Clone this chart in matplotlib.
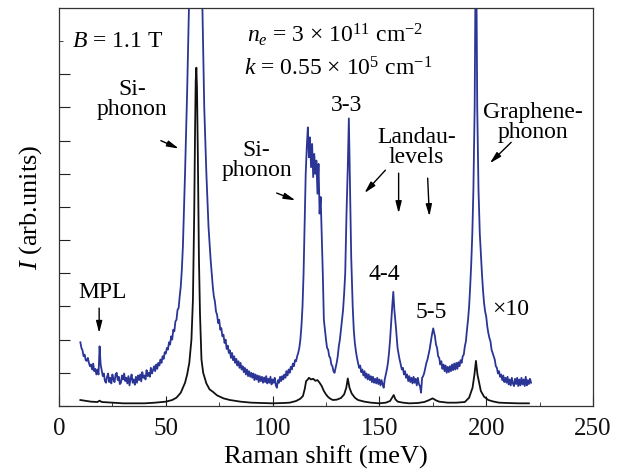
import matplotlib
matplotlib.use("Agg")
import matplotlib.pyplot as plt

plt.rcParams['font.family'] = ['Liberation Serif', 'DejaVu Serif']
plt.rcParams['mathtext.fontset'] = 'custom'
plt.rcParams['mathtext.rm'] = 'Liberation Serif'
plt.rcParams['mathtext.it'] = 'Liberation Serif:italic'

# espectro x10 (azul), meV / u.a.
blue_x = [10, 10.5, 11, 11.5, 12, 12.5, 13, 13.5, 14, 14.5,
          15, 15.5, 16, 16.5, 17, 17.5, 18, 18.5, 19, 19.5,
          20, 20.5, 21, 21.5, 22, 22.5, 23, 23.5, 24, 24.5,
          25, 25.5, 26, 26.5, 27, 27.5, 28, 28.5, 29, 29.5,
          30, 30.5, 31, 31.5, 32, 32.5, 33, 33.5, 34, 34.5,
          35, 35.5, 36, 36.5, 37, 37.5, 38, 38.5, 39, 39.5,
          40, 40.5, 41, 41.5, 42, 42.5, 43, 43.5, 44, 44.5,
          45, 45.5, 46, 46.5, 47, 47.5, 48, 48.5, 49, 49.5,
          50, 50.5, 51, 51.5, 52, 52.5, 53, 53.5, 54, 54.5,
          55, 55.5, 56, 56.5, 57, 57.5, 58, 59, 60, 61,
          62, 63, 64, 65, 66, 67, 68, 69, 70, 71,
          72, 72.5, 73, 73.5, 74, 74.5, 75, 75.5, 76, 76.5,
          77, 77.5, 78, 78.5, 79, 79.5, 80, 80.5, 81, 81.5,
          82, 82.5, 83, 83.5, 84, 84.5, 85, 85.5, 86, 86.5,
          87, 87.5, 88, 88.5, 89, 89.5, 90, 90.5, 91, 91.5,
          92, 92.5, 93, 93.5, 94, 94.5, 95, 95.5, 96, 96.5,
          97, 97.5, 98, 98.5, 99, 99.5, 100, 100.5, 101, 101.5,
          102, 102.5, 103, 103.5, 104, 104.5, 105, 105.5, 106, 106.5,
          107, 107.5, 108, 108.5, 109, 109.5, 110, 110.5, 111, 111.5,
          112, 112.5, 113, 113.5, 114, 114.5, 115, 115.5, 116, 116.5,
          117, 117.5, 118, 118.5, 119, 119.5, 120, 120.5, 121, 121.5,
          122, 122.5, 123, 123.5, 124, 124.5, 125, 125.5, 126, 126.5,
          127, 127.5, 128, 128.5, 129, 129.5, 130, 130.5, 131, 131.5,
          132, 132.5, 133, 133.5, 134, 134.6, 135.2, 135.7, 136.2, 136.8,
          137.5, 138, 138.5, 139, 139.5, 140, 140.5, 141, 141.5, 142,
          142.5, 143, 143.5, 144, 144.5, 145, 145.5, 146, 146.5, 147,
          147.5, 148, 148.5, 149, 149.5, 150, 150.5, 151, 151.5, 152,
          152.5, 153, 153.5, 154, 154.5, 155, 155.5, 156, 156.5, 157,
          157.7, 158.5, 159.3, 160, 160.5, 161, 161.5, 162, 162.5, 163,
          163.5, 164, 164.5, 165, 165.5, 166, 166.5, 167, 167.5, 168,
          168.5, 169, 169.5, 170, 170.5, 171, 171.5, 172, 172.5, 173,
          173.5, 174, 174.6, 175.2, 176, 176.5, 177, 177.5, 178, 178.5,
          179, 179.5, 180, 180.5, 181, 181.5, 182, 182.5, 183, 183.5,
          184, 184.5, 185, 185.5, 186, 186.5, 187, 187.5, 188, 188.5,
          189, 189.5, 190, 190.5, 191, 191.5, 192, 192.5, 193, 193.5,
          194, 194.6, 195.2, 195.8, 196.4, 197, 197.5, 198, 198.5, 199,
          199.5, 200, 200.5, 201, 201.5, 202, 202.5, 203, 203.5, 204,
          204.5, 205, 205.5, 206, 206.5, 207, 207.5, 208, 208.5, 209,
          209.5, 210, 210.5, 211, 211.5, 212, 212.5, 213, 213.5, 214,
          214.5, 215, 215.5, 216, 216.5, 217, 217.5, 218, 218.5, 219,
          219.5, 220, 220.5, 221]
blue_y = [1.92, 1.75, 1.68, 1.5, 1.55, 1.38, 1.36, 1.45, 1.3, 1.2,
          1.25, 1.1, 1.28, 1.05, 1.12, 0.95, 1.1, 0.95, 1.8, 1.25,
          1.08, 0.9, 0.98, 0.75, 0.7, 0.88, 0.98, 0.72, 0.85, 0.68,
          0.95, 0.8, 0.72, 0.95, 1.0, 0.78, 0.88, 0.66, 0.7, 0.92,
          0.8, 0.98, 0.75, 0.85, 0.68, 0.9, 0.62, 0.82, 0.95, 0.7,
          0.8, 0.64, 0.88, 0.7, 0.92, 0.78, 0.95, 0.74, 1.02, 0.85,
          0.92, 0.8, 1.08, 0.9, 1.0, 0.88, 1.15, 0.98, 1.08, 1.2,
          1.05, 1.25, 1.12, 1.3, 1.22, 1.4, 1.3, 1.5, 1.42, 1.62,
          1.58, 1.75, 1.7, 1.92, 1.85, 2.1, 2.0, 2.3, 2.25, 2.55,
          2.6, 2.9, 2.95, 3.3, 3.6, 4.1, 4.8, 7.0, 9.5, 12.5,
          16.0, 19.0, 20.5, 19.5, 16.0, 12.5, 9.0, 7.0, 5.4, 4.4,
          3.6, 3.3, 3.15, 2.85, 2.75, 2.5, 2.6, 2.3, 2.35, 2.1,
          2.15, 1.9, 2.0, 1.72, 1.82, 1.6, 1.68, 1.45, 1.6, 1.38,
          1.5, 1.3, 1.42, 1.22, 1.35, 1.15, 1.3, 1.1, 1.2, 1.02,
          1.15, 0.95, 1.1, 0.9, 1.05, 0.88, 1.0, 0.85, 0.98, 0.78,
          0.95, 0.8, 0.92, 0.72, 0.9, 0.75, 0.88, 0.7, 0.86, 0.72,
          0.9, 0.68, 0.82, 0.7, 0.88, 0.65, 0.8, 0.7, 0.85, 0.62,
          0.55, 0.78, 0.7, 0.88, 0.75, 0.9, 0.8, 0.95, 0.85, 1.05,
          0.92, 1.1, 1.0, 1.18, 1.1, 1.28, 1.2, 1.38, 1.35, 1.5,
          1.6, 1.75, 2.0, 2.4, 3.0, 4.0, 5.5, 7.0, 7.8, 8.4,
          7.5, 8.1, 7.2, 7.9, 6.9, 7.6, 7.0, 7.4, 6.4, 7.3,
          5.8, 6.3, 5.2, 4.0, 2.6, 2.3, 2.0, 1.75, 1.7, 1.5,
          1.45, 1.25, 1.2, 1.05, 1.0, 1.15, 1.3, 1.5, 1.8, 2.0,
          2.3, 2.6, 2.9, 3.4, 4.0, 5.8, 7.2, 8.67, 6.8, 4.5,
          3.0, 2.3, 1.9, 1.65, 1.45, 1.3, 1.15, 1.22, 1.02, 1.1,
          0.92, 1.05, 0.85, 0.98, 0.8, 0.95, 0.78, 0.9, 0.72, 0.88,
          0.7, 0.82, 0.68, 0.85, 0.66, 0.8, 0.62, 0.78, 0.65, 0.55,
          0.8, 0.95, 1.1, 1.3, 1.6, 2.0, 2.5, 3.0, 3.44, 2.9,
          2.4, 1.75, 1.45, 1.25, 1.1, 1.15, 0.95, 1.05, 0.85, 0.95,
          0.75, 0.9, 0.72, 0.85, 0.68, 0.88, 0.7, 0.82, 0.62, 0.85,
          0.66, 0.6, 0.4, 0.85, 0.9, 1.0, 1.15, 1.3, 1.4, 1.55,
          1.7, 1.9, 2.15, 2.34, 2.1, 1.85, 1.75, 1.5, 1.45, 1.25,
          1.35, 1.12, 1.25, 1.05, 1.22, 1.0, 1.18, 1.02, 1.2, 1.05,
          1.25, 1.08, 1.28, 1.1, 1.3, 1.12, 1.32, 1.2, 1.38, 1.3,
          1.5, 1.55, 1.8, 1.95, 2.3, 2.6, 3.0, 3.6, 4.3, 5.2,
          6.5, 9.0, 15.0, 9.0, 6.5, 5.2, 4.6, 4.0, 3.5, 3.1,
          2.85, 2.7, 2.4, 2.2, 2.05, 1.95, 1.7, 1.6, 1.5, 1.4,
          1.2, 1.15, 0.98, 1.05, 0.88, 0.95, 0.78, 0.92, 0.72, 0.85,
          0.7, 0.88, 0.65, 0.8, 0.62, 0.85, 0.68, 0.6, 0.82, 0.66,
          0.85, 0.6, 0.8, 0.62, 0.85, 0.65, 0.8, 0.6, 0.88, 0.62,
          0.78, 0.66, 0.82, 0.7]

# espectro original (negro)
black_x = [10, 12, 15, 18, 19, 20, 25, 30, 35, 40,
           45, 50, 53, 55, 57, 59, 60, 61, 62, 62.7,
           63.3, 63.7, 64.0, 64.3, 64.6, 65.0, 65.5, 66.0, 66.7, 67.5,
           69, 70.5, 72, 74, 77, 80, 85, 90, 95, 100,
           105, 108, 111, 113, 114.2, 115, 115.7, 116.5, 117, 118,
           119, 120, 121, 122, 123, 124, 125, 126, 127, 128.2,
           130, 132, 133.5, 134.5, 135.2, 136, 137, 138.5, 140, 143,
           146, 150, 153, 155, 156.7, 157.5, 158.6, 161, 164, 168,
           171, 173, 174.9, 176.5, 178, 182, 186, 190, 192, 193.6,
           194.5, 195.2, 195.9, 196.7, 197.5, 199, 201, 203, 206, 210,
           215, 220]
black_y = [0.18, 0.16, 0.13, 0.12, 0.16, 0.12, 0.1, 0.08, 0.08, 0.08,
           0.1, 0.13, 0.18, 0.25, 0.4, 0.7, 0.95, 1.3, 2.0, 3.2,
           5.8, 8.3, 9.8, 10.2, 9.6, 7.6, 4.5, 2.8, 1.4, 1.0,
           0.68, 0.5, 0.43, 0.32, 0.23, 0.18, 0.13, 0.1, 0.09, 0.08,
           0.09, 0.1, 0.15, 0.22, 0.3, 0.5, 0.75, 0.8, 0.85, 0.8,
           0.82, 0.76, 0.78, 0.7, 0.6, 0.45, 0.35, 0.27, 0.22, 0.18,
           0.19, 0.24, 0.35, 0.55, 0.83, 0.55, 0.38, 0.25, 0.18, 0.13,
           0.1, 0.08, 0.1, 0.15, 0.33, 0.2, 0.13, 0.1, 0.08, 0.09,
           0.12, 0.17, 0.23, 0.17, 0.13, 0.1, 0.1, 0.12, 0.25, 0.55,
           0.95, 1.36, 0.95, 0.7, 0.45, 0.28, 0.18, 0.14, 0.1, 0.09,
           0.08, 0.08]

fig = plt.figure(figsize=(6.25, 4.75), dpi=100)
ax = fig.add_axes([0.0944, 0.1453, 0.8544, 0.8379])

ax.plot(blue_x, blue_y, color='#2b3595', lw=1.3)
ax.plot(black_x, black_y, color='#111111', lw=1.3)

ax.set_xlim(0, 250)
ax.set_ylim(0, 12)
ax.set_xticks([0, 50, 100, 150, 200, 250])
ax.set_xticks([25, 75, 125, 175, 225], minor=True)
ax.set_yticks(range(0, 11))
ax.set_yticks([11], minor=True)
ax.set_yticklabels([])
ax.tick_params(axis='both', which='both', direction='in', colors='#222222',
               labelcolor='#111111', labelsize=18)
ax.tick_params(axis='x', which='major', length=7, pad=9)
ax.tick_params(axis='x', which='minor', length=3)
ax.tick_params(axis='y', which='major', length=8)
ax.tick_params(axis='y', which='minor', length=3)
for s in ax.spines.values():
    s.set_color('#333333')
    s.set_linewidth(0.9)

ax.set_xlabel('Raman shift (meV)', fontsize=19, labelpad=4)
ax.set_ylabel('$I$ (arb.units)', fontsize=19, labelpad=7)

fs = 17
ax.text(6, 11.0, '$B$ = 1.1 T', fontsize=fs, ha='left', va='center')
ax.text(88, 11.2, '$n_e$ = 3 × 10$^{11}$ cm$^{-2}$', fontsize=fs,
        ha='left', va='center')
ax.text(86.5, 10.15, '$k$ = 0.55 × 10$^{5}$ cm$^{-1}$', fontsize=fs,
        ha='left', va='center')
ax.text(34.3, 9.25, 'Si-\nphonon', fontsize=fs, ha='center', va='center',
        linespacing=0.95)
ax.text(92.5, 7.4, 'Si-\nphonon', fontsize=fs, ha='center', va='center',
        linespacing=0.95)
ax.text(134.6, 9.05, '3-3', fontsize=fs, ha='center', va='center')
ax.text(167.3, 7.8, 'Landau-\nlevels', fontsize=fs, ha='center', va='center',
        linespacing=0.95)
ax.text(221.7, 8.55, 'Graphene-\nphonon', fontsize=fs, ha='center',
        va='center', linespacing=0.95)
ax.text(20.6, 3.43, 'MPL', fontsize=fs, ha='center', va='center')
ax.text(152.3, 3.96, '4-4', fontsize=fs, ha='center', va='center')
ax.text(174.3, 2.82, '5-5', fontsize=fs, ha='center', va='center')
ax.text(211.4, 2.91, '×10', fontsize=fs, ha='center', va='center')

flecha = dict(arrowstyle='-|>,head_length=0.7,head_width=0.18', color='k',
              lw=1.0, shrinkA=0, shrinkB=0)
arrows = [((47.7, 8.0), (56.1, 7.76)),
          ((101.9, 6.42), (110.7, 6.2)),
          ((152.8, 7.11), (143.0, 6.42)),
          ((159.0, 7.02), (159.0, 5.81)),
          ((172.6, 6.87), (173.4, 5.72)),
          ((211.7, 7.95), (201.7, 7.32)),
          ((18.8, 2.95), (18.8, 2.2))]
for tail, tip in arrows:
    ax.annotate('', xy=tip, xytext=tail, arrowprops=flecha)

fig.savefig('out.png', dpi=100)
